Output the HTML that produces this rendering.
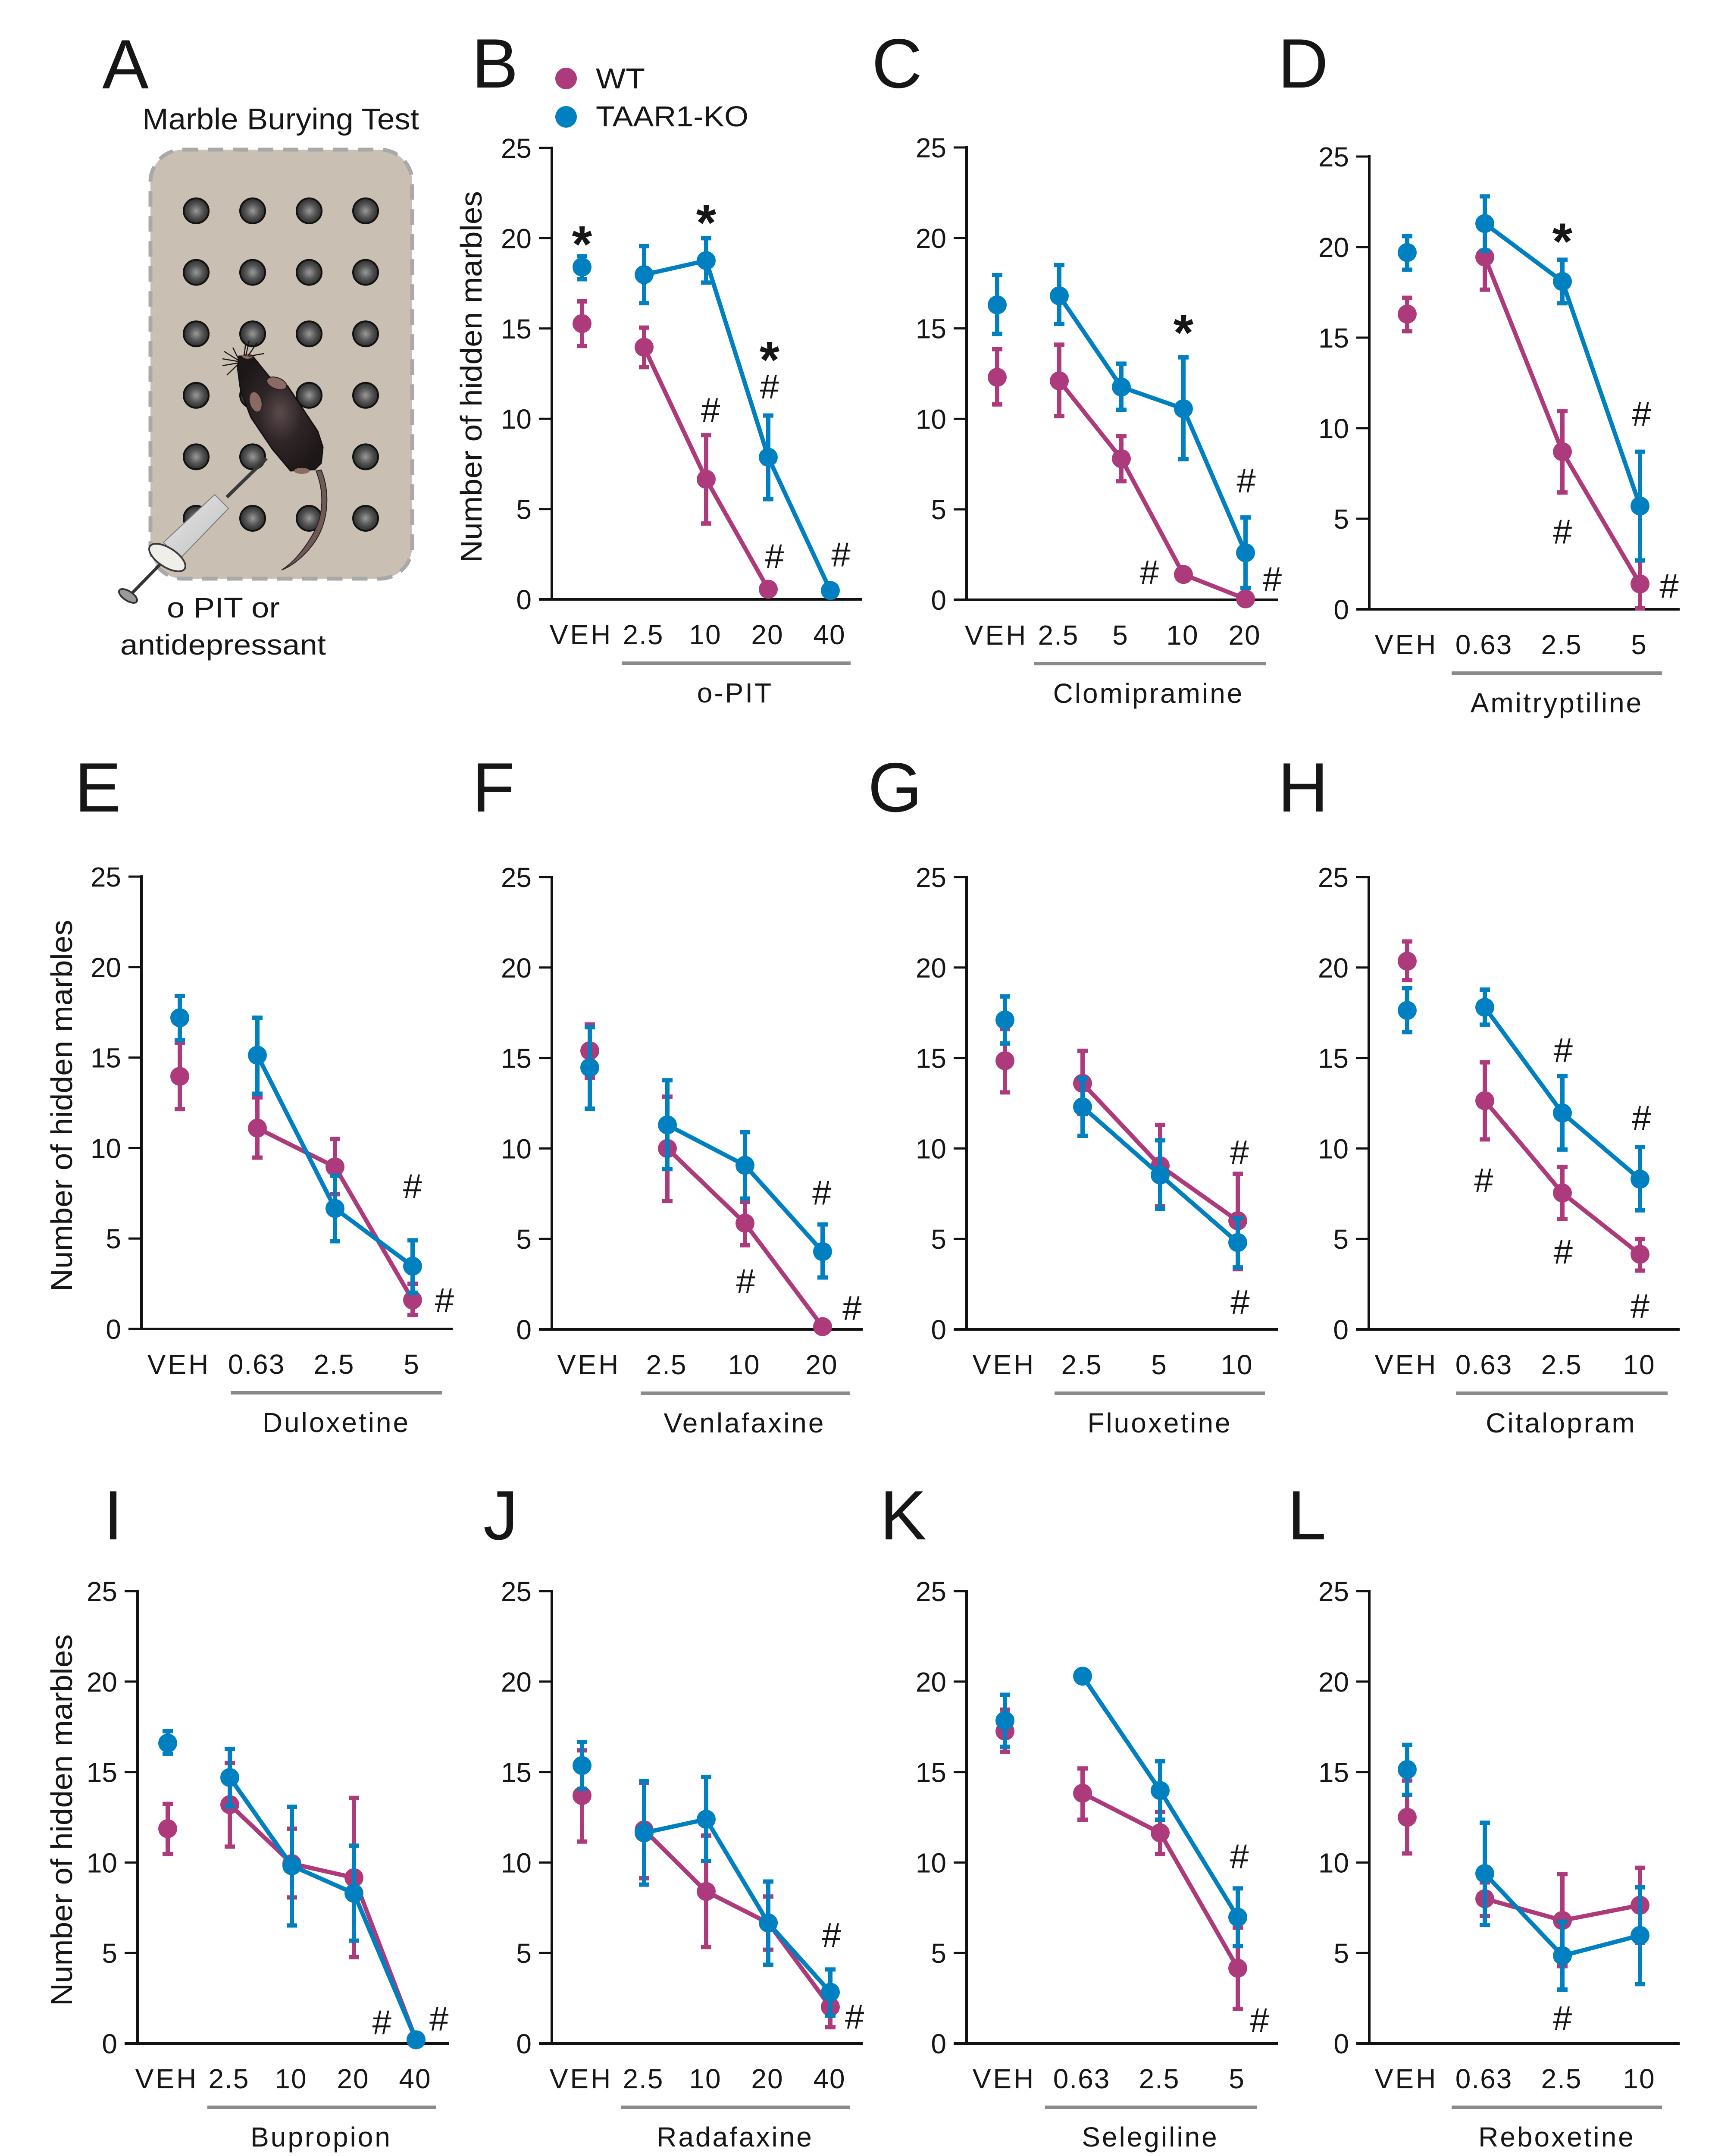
<!DOCTYPE html>
<html>
<head>
<meta charset="utf-8">
<title>Marble Burying Test</title>
<style>
html,body{margin:0;padding:0;background:#fff;width:3971px;height:5038px;overflow:hidden;}
svg{display:block;position:absolute;left:0;top:0;}
text{font-family:"Liberation Sans",Arial,sans-serif;fill:#161616;}
</style>
</head>
<body>
<svg id="figure" xmlns="http://www.w3.org/2000/svg" width="3971" height="5038" viewBox="0 0 3971 5038">
  <defs>
    <radialGradient id="marbleFill" cx="50%" cy="50%" r="50%">
      <stop offset="0%" stop-color="#9a9a9a"/>
      <stop offset="55%" stop-color="#555"/>
      <stop offset="100%" stop-color="#2e2e2e"/>
    </radialGradient>
    <radialGradient id="mouseFill" cx="50%" cy="50%" r="55%">
      <stop offset="0%" stop-color="#5b4a4c"/>
      <stop offset="45%" stop-color="#2f2527"/>
      <stop offset="100%" stop-color="#1d1718"/>
    </radialGradient>
    <linearGradient id="barrelFill" x1="0" y1="0" x2="1" y2="1">
      <stop offset="0%" stop-color="#e8e8e4"/>
      <stop offset="100%" stop-color="#bdbfc2"/>
    </linearGradient>
  </defs>

  <g id="panel-letters" font-size="162">
    <text x="237" y="205">A</text>
    <text x="1094" y="203">B</text>
    <text x="2022" y="203">C</text>
    <text x="2964" y="203">D</text>
    <text x="173" y="1882">E</text>
    <text x="1095" y="1882">F</text>
    <text x="2013" y="1882">G</text>
    <text x="2964" y="1882">H</text>
    <text x="240" y="3570">I</text>
    <text x="1121" y="3570">J</text>
    <text x="2041" y="3570">K</text>
    <text x="2986" y="3570">L</text>
  </g>

  <g id="panel-a">
    <text x="330" y="300" font-size="70" textLength="642" lengthAdjust="spacingAndGlyphs">Marble Burying Test</text>
    <rect x="349" y="347" width="607" height="995" rx="75" ry="75" fill="#c9bfb2" stroke="#a9a9a9" stroke-width="9" stroke-dasharray="36 22"/>
    <g id="marbles"></g>
    <g>
      <path d="M733 1092 C752 1140 752 1195 725 1240 C705 1275 680 1305 653 1322 C685 1310 722 1275 740 1240 C765 1190 762 1130 745 1090 Z" fill="#6f5a58" stroke="#2a2020" stroke-width="2"/>
      <path d="M554 826 L586 826 L625 874 L667 895 L737 1000 L749 1037 L745 1074 L730 1089 L674 1092 L632 1042 L582 968 L558 905 L551 853 Z" fill="url(#mouseFill)" stroke="#141010" stroke-width="3" stroke-linejoin="round"/>
      <ellipse cx="642" cy="889" rx="24" ry="13" transform="rotate(20 642 889)" fill="#8a6a62" stroke="#2a2020" stroke-width="2"/>
      <ellipse cx="593" cy="932" rx="14" ry="24" transform="rotate(-15 593 932)" fill="#8a6a62" stroke="#2a2020" stroke-width="2"/>
      <ellipse cx="700" cy="1092" rx="18" ry="7" fill="#8a6a62"/>
      <ellipse cx="574" cy="826" rx="12" ry="6" fill="#8a6a62"/>
      <g stroke="#1a1414" stroke-width="2.5" fill="none">
        <path d="M553 832 L540 806"/><path d="M552 835 L520 815"/><path d="M551 838 L516 832"/><path d="M551 842 L516 848"/><path d="M551 846 L526 870"/>
        <path d="M570 826 L578 790"/><path d="M575 826 L596 795"/><path d="M578 826 L612 820"/><path d="M566 826 L570 796"/>
      </g>
    </g>
    <g>
      <line x1="618" y1="1063" x2="526" y2="1153" stroke="#3a3a3a" stroke-width="8"/>
      <line x1="384" y1="1296" x2="302" y2="1380" stroke="#333" stroke-width="7"/>
      <polygon points="498,1147 530,1179 418,1295 379,1258" fill="url(#barrelFill)" stroke="#777" stroke-width="2"/>
      <ellipse cx="388" cy="1293" rx="48" ry="22" transform="rotate(33 388 1293)" fill="#efeee8" stroke="#3a3a3a" stroke-width="4"/>
      <ellipse cx="297" cy="1382" rx="24" ry="11" transform="rotate(33 297 1382)" fill="#999" stroke="#333" stroke-width="4"/>
    </g>
    <text x="387" y="1432" font-size="66" textLength="262" lengthAdjust="spacingAndGlyphs">o PIT or</text>
    <text x="279" y="1518" font-size="66" textLength="477" lengthAdjust="spacingAndGlyphs">antidepressant</text>
  </g>

  <g id="legend">
    <circle cx="1313" cy="182" r="25" fill="#ad3b7b"/>
    <text x="1382" y="205" font-size="67" textLength="114" lengthAdjust="spacingAndGlyphs">WT</text>
    <circle cx="1313" cy="271" r="25" fill="#0080c0"/>
    <text x="1382" y="293" font-size="67" textLength="354" lengthAdjust="spacingAndGlyphs">TAAR1-KO</text>
  </g>
  <g id="charts"></g>
</svg>

<script>
/* ---------- shared axis values ---------- */
const yTickValues = [0, 5, 10, 15, 20, 25];
const yAxisMax = 25;
const yAxisTitleText = "Number of hidden marbles";

/* ---------- panel B: o-PIT ---------- */
const panelB_categories = ["VEH", "2.5", "10", "20", "40"];
const panelB_wt = [15.27, 13.96, 6.65, 0.56, null];
const panelB_wtHigh = [16.5, 15.05, 9.09, 0.56, null];
const panelB_wtLow = [14.03, 12.86, 4.2, 0.56, null];
const panelB_ko = [18.4, 17.98, 18.76, 7.87, 0.49];
const panelB_koHigh = [19.0, 19.56, 20.0, 10.18, 0.49];
const panelB_koLow = [17.73, 16.4, 17.54, 5.55, 0.49];
const panelB_marks = [["*", 0, 20.0], ["*", 2, 21.2], ["#", 2.07, 10.5], ["*", 3.02, 13.6], ["#", 3.02, 11.8], ["#", 3.1, 2.4], ["#", 4.17, 2.5]];

/* ---------- panel C: Clomipramine ---------- */
const panelC_categories = ["VEH", "2.5", "5", "10", "20"];
const panelC_wt = [12.3, 12.1, 7.8, 1.4, 0.05];
const panelC_wtHigh = [13.85, 14.1, 9.05, 1.4, 0.05];
const panelC_wtLow = [10.8, 10.15, 6.55, 1.4, 0.05];
const panelC_ko = [16.3, 16.8, 11.76, 10.56, 2.6];
const panelC_koHigh = [17.95, 18.5, 13.05, 13.4, 4.55];
const panelC_koLow = [14.7, 15.25, 10.5, 7.77, 0.65];
const panelC_marks = [["*", 3, 15.1], ["#", 4.01, 6.6], ["#", 2.45, 1.53], ["#", 4.43, 1.15]];

/* ---------- panel D: Amitryptiline ---------- */
const panelD_categories = ["VEH", "0.63", "2.5", "5"];
const panelD_wt = [16.3, 19.45, 8.7, 1.4];
const panelD_wtHigh = [17.2, 21.25, 10.95, 2.7];
const panelD_wtLow = [15.35, 17.65, 6.45, 0.05];
const panelD_ko = [19.7, 21.3, 18.1, 5.7];
const panelD_koHigh = [20.6, 22.8, 19.3, 8.7];
const panelD_koLow = [18.75, 19.8, 16.9, 2.7];
const panelD_marks = [["*", 2, 20.65], ["#", 3.02, 10.8], ["#", 2, 4.3], ["#", 3.375, 1.3]];

/* ---------- panel E: Duloxetine ---------- */
const panelE_categories = ["VEH", "0.63", "2.5", "5"];
const panelE_wt = [13.96, 11.1, 8.96, 1.6];
const panelE_wtHigh = [15.8, 12.8, 10.5, 2.5];
const panelE_wtLow = [12.15, 9.47, 7.45, 0.77];
const panelE_ko = [17.2, 15.13, 6.66, 3.47];
const panelE_koHigh = [18.4, 17.2, 8.47, 4.9];
const panelE_koLow = [15.96, 13.0, 4.85, 2.0];
const panelE_marks = [["#", 3, 7.9], ["#", 3.41, 1.6]];

/* ---------- panel F: Venlafaxine ---------- */
const panelF_categories = ["VEH", "2.5", "10", "20"];
const panelF_wt = [15.4, 10.0, 5.87, 0.15];
const panelF_wtHigh = [16.85, 12.86, 7.05, 0.15];
const panelF_wtLow = [13.9, 7.1, 4.65, 0.15];
const panelF_ko = [14.47, 11.3, 9.07, 4.3];
const panelF_koHigh = [16.7, 13.77, 10.9, 5.8];
const panelF_koLow = [12.2, 8.86, 7.23, 2.87];
const panelF_marks = [["#", 2.99, 7.57], ["#", 2.01, 2.67], ["#", 3.38, 1.19]];

/* ---------- panel G: Fluoxetine ---------- */
const panelG_categories = ["VEH", "2.5", "5", "10"];
const panelG_wt = [14.85, 13.6, 9.04, 6.0];
const panelG_wtHigh = [16.6, 15.4, 11.3, 8.6];
const panelG_wtLow = [13.1, 11.9, 6.8, 3.33];
const panelG_ko = [17.1, 12.3, 8.53, 4.8];
const panelG_koHigh = [18.4, 13.87, 10.45, 6.14];
const panelG_koLow = [15.8, 10.7, 6.67, 3.43];
const panelG_marks = [["#", 3.02, 9.8], ["#", 3.03, 1.53]];

/* ---------- panel H: Citalopram ---------- */
const panelH_categories = ["VEH", "0.63", "2.5", "10"];
const panelH_wt = [20.35, 12.64, 7.54, 4.15];
const panelH_wtHigh = [21.44, 14.76, 8.98, 5.0];
const panelH_wtLow = [19.3, 10.5, 6.1, 3.25];
const panelH_ko = [17.63, 17.8, 11.96, 8.3];
const panelH_koHigh = [18.86, 18.78, 14.0, 10.08];
const panelH_koLow = [16.43, 16.84, 9.94, 6.58];
const panelH_marks = [["#", 2.01, 15.44], ["#", 3.02, 11.7], ["#", 0.986, 8.25], ["#", 2.01, 4.3], ["#", 3, 1.3]];

/* ---------- panel I: Bupropion ---------- */
const panelI_categories = ["VEH", "2.5", "10", "20", "40"];
const panelI_wt = [11.87, 13.2, 9.94, 9.16, 0.2];
const panelI_wtHigh = [13.24, 15.5, 11.87, 13.57, 0.2];
const panelI_wtLow = [10.47, 10.88, 8.07, 4.77, 0.2];
const panelI_ko = [16.6, 14.7, 9.82, 8.3, 0.2];
const panelI_koHigh = [17.26, 16.28, 13.08, 10.93, 0.2];
const panelI_koLow = [16.0, 13.1, 6.52, 5.68, 0.2];
const panelI_marks = [["#", 3.45, 1.18], ["#", 4.37, 1.38]];

/* ---------- panel J: Radafaxine ---------- */
const panelJ_categories = ["VEH", "2.5", "10", "20", "40"];
const panelJ_wt = [13.7, 11.8, 8.4, 6.66, 2.02];
const panelJ_wtHigh = [16.2, 14.4, 11.49, 8.12, 3.0];
const panelJ_wtLow = [11.16, 9.13, 5.33, 5.18, 0.9];
const panelJ_ko = [15.36, 11.64, 12.39, 6.66, 2.83];
const panelJ_koHigh = [16.66, 14.5, 14.73, 8.95, 4.09];
const panelJ_koLow = [14.07, 8.78, 10.08, 4.35, 1.53];
const panelJ_marks = [["#", 4.02, 6.0], ["#", 4.39, 1.49]];

/* ---------- panel K: Selegiline ---------- */
const panelK_categories = ["VEH", "0.63", "2.5", "5"];
const panelK_wt = [17.26, 13.83, 11.64, 4.16];
const panelK_wtHigh = [18.45, 15.2, 12.8, 6.4];
const panelK_wtLow = [16.12, 12.37, 10.47, 1.91];
const panelK_ko = [17.84, 20.3, 13.98, 6.98];
const panelK_koHigh = [19.27, 20.3, 15.6, 8.57];
const panelK_koLow = [16.4, 20.3, 12.37, 5.38];
const panelK_marks = [["#", 3.02, 10.35], ["#", 3.28, 1.3]];

/* ---------- panel L: Reboxetine ---------- */
const panelL_categories = ["VEH", "0.63", "2.5", "10"];
const panelL_wt = [12.5, 8.0, 6.8, 7.64];
const panelL_wtHigh = [14.53, 8.9, 9.36, 9.71];
const panelL_wtLow = [10.5, 7.05, 4.27, 5.56];
const panelL_ko = [15.14, 9.39, 4.85, 5.97];
const panelL_koHigh = [16.5, 12.2, 6.73, 8.63];
const panelL_koLow = [13.74, 6.55, 2.98, 3.28];
const panelL_marks = [["#", 2, 1.41]];

/* ---------- drawing ---------- */
const SVG_NS = "http://www.w3.org/2000/svg";
const WT_COLOR = "#ad3b7b";
const KO_COLOR = "#0080c0";

function mk(parent, tag, attrs, text) {
  const el = document.createElementNS(SVG_NS, tag);
  for (const k in attrs) el.setAttribute(k, attrs[k]);
  if (text !== undefined) el.textContent = text;
  parent.appendChild(el);
  return el;
}

function drawSeries(group, name, color, values, highs, lows, xScale, yScale) {
  const pts = [];
  values.forEach(function (v, i) {
    if (i > 0 && v !== null) pts.push(xScale(i) + "," + yScale(v));
  });
  const line = mk(group, "polyline", { points: pts.join(" "), fill: "none", stroke: color, "stroke-width": 10, "stroke-linejoin": "round" });
  
  
  values.forEach(function (v, i) {
    if (v === null) return;
    const x = xScale(i);
    const hi = yScale(highs[i]);
    const lo = yScale(lows[i]);
    if (highs[i] !== lows[i]) {
      const err = mk(group, "path", {
        d: "M" + x + " " + hi + "V" + lo + "M" + (x - 12) + " " + hi + "H" + (x + 12) + "M" + (x - 12) + " " + lo + "H" + (x + 12),
        fill: "none", stroke: color, "stroke-width": 10
      });
      
      
    }
    const dot = mk(group, "circle", { cx: x, cy: yScale(v), r: 22, fill: color });
    
    
  });
}

function drawPanel(opt, categories, wt, wtHigh, wtLow, ko, koHigh, koLow, marks) {
  const root = document.getElementById("charts");
  const g = mk(root, "g", {});
  
  

  const yScale = function (v) { return opt.bottom - (v / yAxisMax) * (opt.bottom - opt.top); };
  const xScale = function (i) { return opt.firstX + opt.stepX * i; };

  const yAxis = mk(g, "line", { x1: opt.axisX, x2: opt.axisX, y1: opt.top - 3, y2: opt.bottom + 3, stroke: "#111", "stroke-width": 6 });
  
  
  const xAxis = mk(g, "line", { x1: opt.axisX - 30, x2: opt.right, y1: opt.bottom, y2: opt.bottom, stroke: "#111", "stroke-width": 6 });
  
  

  yTickValues.forEach(function (t) {
    const yy = yScale(t);
    const tick = mk(g, "line", { x1: opt.axisX - 30, x2: opt.axisX, y1: yy, y2: yy, stroke: "#111", "stroke-width": 5 });
    
    
    const lbl = mk(g, "text", { x: opt.axisX - 47, y: yy + 23, "font-size": 64, "text-anchor": "end" }, String(t));
    
    
  });

  categories.forEach(function (c, i) {
    const lbl = mk(g, "text", { x: xScale(i) - 2, y: opt.bottom + 104, "font-size": 64, "text-anchor": "middle", "letter-spacing": c === "VEH" ? 5 : 2 }, c);
    
    
  });

  const bar = mk(g, "rect", { x: opt.barStart, y: opt.bottom + 144, width: opt.barEnd - opt.barStart, height: 8, fill: "#8a8a8a" });
  
  
  const drug = mk(g, "text", { x: opt.labelX, y: opt.bottom + 239, "font-size": 64, "text-anchor": "middle", "letter-spacing": 4 }, opt.drug);
  
  

  if (opt.titleY) {
    const title = mk(g, "text", {
      x: 0, y: 0, "font-size": 70, "text-anchor": "middle", textLength: 862, lengthAdjust: "spacingAndGlyphs",
      transform: "translate(" + opt.titleX + " " + opt.titleY + ") rotate(-90)"
    }, yAxisTitleText);
    
    
  }

  drawSeries(g, "wt", WT_COLOR, wt, wtHigh, wtLow, xScale, yScale);
  drawSeries(g, "ko", KO_COLOR, ko, koHigh, koLow, xScale, yScale);

  marks.forEach(function (m) {
    const star = m[0] === "*";
    const fs = star ? 120 : 80;
    const off = star ? 0.46 * fs : 0.35 * fs;
    const t = mk(g, "text", { x: xScale(m[1]), y: yScale(m[2]) + off, "font-size": fs, "text-anchor": "middle", "font-weight": star ? "bold" : "normal" }, m[0]);
    
    
  });
}

/* marbles in the schematic */
const marbleColumns = 4;
const marbleRows = 6;
(function () {
  const holder = document.getElementById("marbles");
  for (let r = 0; r < marbleRows; r++) {
    for (let c = 0; c < marbleColumns; c++) {
      const m = mk(holder, "circle", { cx: 455 + c * 131, cy: 489 + r * 142.6, r: 29, fill: "url(#marbleFill)", stroke: "#111", "stroke-width": 4 });
      
      
    }
  }
})();

drawPanel({ id: "b", drug: "o-PIT", axisX: 1280, top: 343, bottom: 1390, right: 2000, firstX: 1350, stepX: 144, barStart: 1442, barEnd: 1973, labelX: 1705, titleX: 1117, titleY: 874 },
  panelB_categories, panelB_wt, panelB_wtHigh, panelB_wtLow, panelB_ko, panelB_koHigh, panelB_koLow, panelB_marks);
drawPanel({ id: "c", drug: "Clomipramine", axisX: 2242, top: 342, bottom: 1391, right: 2964, firstX: 2313, stepX: 144, barStart: 2398, barEnd: 2937, labelX: 2664 },
  panelC_categories, panelC_wt, panelC_wtHigh, panelC_wtLow, panelC_ko, panelC_koHigh, panelC_koLow, panelC_marks);
drawPanel({ id: "d", drug: "Amitryptiline", axisX: 3176, top: 363, bottom: 1413, right: 3896, firstX: 3264, stepX: 180, barStart: 3367, barEnd: 3855, labelX: 3611 },
  panelD_categories, panelD_wt, panelD_wtHigh, panelD_wtLow, panelD_ko, panelD_koHigh, panelD_koLow, panelD_marks);

drawPanel({ id: "e", drug: "Duloxetine", axisX: 328, top: 2033, bottom: 3082, right: 1050, firstX: 417, stepX: 180, barStart: 535, barEnd: 1025, labelX: 780, titleX: 167, titleY: 2564 },
  panelE_categories, panelE_wt, panelE_wtHigh, panelE_wtLow, panelE_ko, panelE_koHigh, panelE_koLow, panelE_marks);
drawPanel({ id: "f", drug: "Venlafaxine", axisX: 1280, top: 2034, bottom: 3083, right: 2001, firstX: 1368, stepX: 180, barStart: 1486, barEnd: 1971, labelX: 1727 },
  panelF_categories, panelF_wt, panelF_wtHigh, panelF_wtLow, panelF_ko, panelF_koHigh, panelF_koLow, panelF_marks);
drawPanel({ id: "g", drug: "Fluoxetine", axisX: 2242, top: 2034, bottom: 3083, right: 2964, firstX: 2331, stepX: 180, barStart: 2446, barEnd: 2934, labelX: 2690 },
  panelG_categories, panelG_wt, panelG_wtHigh, panelG_wtLow, panelG_ko, panelG_koHigh, panelG_koLow, panelG_marks);
drawPanel({ id: "h", drug: "Citalopram", axisX: 3175, top: 2034, bottom: 3083, right: 3896, firstX: 3264, stepX: 180, barStart: 3377, barEnd: 3868, labelX: 3621 },
  panelH_categories, panelH_wt, panelH_wtHigh, panelH_wtLow, panelH_ko, panelH_koHigh, panelH_koLow, panelH_marks);

drawPanel({ id: "i", drug: "Bupropion", axisX: 319, top: 3690, bottom: 4739, right: 1042, firstX: 389, stepX: 144, barStart: 481, barEnd: 1011, labelX: 745, titleX: 167, titleY: 4221 },
  panelI_categories, panelI_wt, panelI_wtHigh, panelI_wtLow, panelI_ko, panelI_koHigh, panelI_koLow, panelI_marks);
drawPanel({ id: "j", drug: "Radafaxine", axisX: 1280, top: 3690, bottom: 4739, right: 2001, firstX: 1350, stepX: 144, barStart: 1441, barEnd: 1971, labelX: 1705 },
  panelJ_categories, panelJ_wt, panelJ_wtHigh, panelJ_wtLow, panelJ_ko, panelJ_koHigh, panelJ_koLow, panelJ_marks);
drawPanel({ id: "k", drug: "Selegiline", axisX: 2242, top: 3690, bottom: 4739, right: 2964, firstX: 2331, stepX: 180, barStart: 2424, barEnd: 2915, labelX: 2668 },
  panelK_categories, panelK_wt, panelK_wtHigh, panelK_wtLow, panelK_ko, panelK_koHigh, panelK_koLow, panelK_marks);
drawPanel({ id: "l", drug: "Reboxetine", axisX: 3176, top: 3690, bottom: 4739, right: 3896, firstX: 3264, stepX: 180, barStart: 3367, barEnd: 3855, labelX: 3611 },
  panelL_categories, panelL_wt, panelL_wtHigh, panelL_wtLow, panelL_ko, panelL_koHigh, panelL_koLow, panelL_marks);
</script>
</body>
</html>
